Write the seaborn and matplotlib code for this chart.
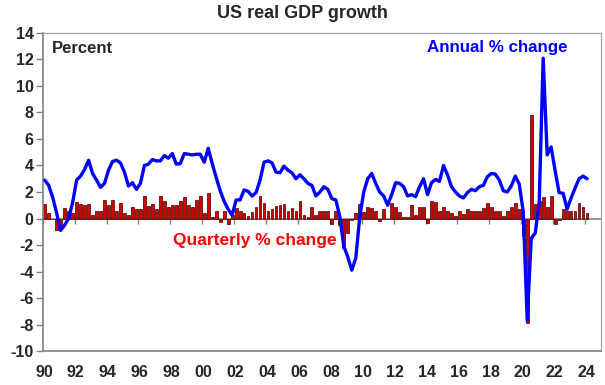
import numpy as np
import pandas as pd
import seaborn as sns
import matplotlib.pyplot as plt

sns.set_style("white")
plt.rcParams['font.family'] = ['Liberation Sans', 'DejaVu Sans']
plt.rcParams['axes.unicode_minus'] = False

# quarterly % change, 1990Q1 - 2024Q1
quarterly = [
    1.1, 0.4, 0.0, -0.9,      # 1990
    -0.6, 0.8, 0.55, 0.45,    # 1991
    1.25, 1.1, 1.0, 1.1,      # 1992
    0.25, 0.6, 0.55, 1.4,     # 1993
    1.0, 1.4, 0.6, 1.2,       # 1994
    0.4, 0.3, 0.9, 0.75,      # 1995
    0.75, 1.7, 0.95, 1.1,     # 1996
    0.7, 1.7, 1.3, 0.9,       # 1997
    1.0, 1.0, 1.3, 1.65,      # 1998
    1.0, 0.9, 1.4, 1.7,       # 1999
    0.4, 1.9, 0.1, 0.6,       # 2000
    -0.3, 0.6, -0.4, 0.3,     # 2001
    0.8, 0.6, 0.45, 0.2,      # 2002
    0.5, 0.9, 1.7, 1.2,       # 2003
    0.6, 0.75, 0.95, 1.05,    # 2004
    1.1, 0.55, 0.8, 0.6,      # 2005
    1.35, 0.3, 0.1, 0.9,      # 2006
    0.3, 0.6, 0.6, 0.6,       # 2007
    -0.4, 0.6, -0.5, -2.2,    # 2008
    -1.1, -0.15, 0.4, 1.1,    # 2009
    0.5, 0.9, 0.8, 0.55,      # 2010
    -0.2, 0.7, 0.0, 1.15,     # 2011
    0.85, 0.5, 0.1, 0.1,      # 2012
    1.0, 0.3, 0.9, 0.9,       # 2013
    -0.35, 1.3, 1.25, 0.55,   # 2014
    0.9, 0.6, 0.4, 0.2,       # 2015
    0.6, 0.35, 0.7, 0.6,      # 2016
    0.55, 0.6, 0.8, 1.15,     # 2017
    0.85, 0.6, 0.6, 0.2,      # 2018
    0.55, 0.85, 1.2, 0.7,     # 2019
    -1.3, -7.9, 7.8, 1.1,     # 2020
    1.3, 1.6, 0.85, 1.7,      # 2021
    -0.45, -0.1, 0.7, 0.6,    # 2022
    0.6, 0.55, 1.2, 0.85,     # 2023
    0.4,                      # 2024
]

# annual % change (year on year), same quarters
annual = [
    2.9, 2.5, 1.6, 0.4,
    -0.9, -0.5, 0.0, 1.2,
    2.9, 3.2, 3.7, 4.4,
    3.4, 2.9, 2.35, 2.65,
    3.65, 4.3, 4.4, 4.2,
    3.5, 2.45, 2.7, 2.2,
    2.65, 4.0, 4.1, 4.45,
    4.35, 4.35, 4.75, 4.55,
    4.9, 4.1, 4.15, 4.9,
    4.85, 4.8, 4.85, 4.85,
    4.25, 5.3, 4.15, 3.1,
    2.1, 1.3, 0.7, 0.25,
    1.4, 1.4, 2.15, 2.05,
    1.7, 1.95, 2.9, 4.25,
    4.35, 4.2, 3.5, 3.45,
    3.95, 3.65, 3.45, 3.0,
    3.3, 3.0, 2.65, 2.5,
    1.7, 2.0, 2.4, 2.2,
    1.5, 1.4, 0.15, -2.1,
    -2.9, -3.9, -3.0, 0.1,
    2.0, 3.0, 3.4, 2.65,
    2.0, 1.7, 1.0, 1.8,
    2.7, 2.65, 2.4, 1.7,
    1.8, 1.65, 2.4, 3.0,
    1.8, 2.7, 2.95, 2.8,
    4.0, 3.3, 2.4, 2.0,
    1.7, 1.55, 1.95, 2.2,
    2.1, 2.4, 2.5, 3.15,
    3.4, 3.35, 2.9, 2.1,
    2.0, 2.45, 3.2, 2.6,
    0.5, -7.7, -1.5, -1.1,
    1.2, 12.1, 4.8, 5.4,
    3.6, 1.95, 1.9, 0.7,
    1.55, 2.3, 3.0, 3.2,
    3.0,
]

year_labels = ['90', '92', '94', '96', '98', '00', '02', '04', '06', '08',
               '10', '12', '14', '16', '18', '20', '22', '24']

df = pd.DataFrame({'q': np.arange(len(quarterly)),
                   'quarterly': quarterly,
                   'annual': annual})

fig = plt.figure(figsize=(6.05, 3.85), dpi=100)
ax = fig.add_axes([0.0706, 0.0883, 0.9228, 0.826])

sns.barplot(data=df, x='q', y='quarterly', native_scale=True, width=0.7,
            color='#d40000', saturation=1, edgecolor='#3a0000', linewidth=0.5,
            ax=ax, zorder=2)
sns.lineplot(data=df, x='q', y='annual', color='#0000ff', linewidth=2.4,
             ax=ax, zorder=3)

ax.set_xlim(-0.5, 139.5)
ax.set_ylim(-10, 14)
ax.set_yticks(range(-10, 15, 2))
ax.set_xticks(np.arange(len(year_labels)) * 8 - 0.2)
ax.set_xticklabels(year_labels)
ax.set_xlabel('')
ax.set_ylabel('')
ax.tick_params(axis='x', length=0, pad=10, labelsize=11.5)
ax.tick_params(axis='y', direction='out', length=5, width=1, color='#808080',
               pad=1.5, labelsize=11.5, left=True)
for lab in ax.get_xticklabels() + ax.get_yticklabels():
    lab.set_fontweight('bold')

for side in ['left', 'bottom']:
    ax.spines[side].set_color('#808080')
    ax.spines[side].set_linewidth(1.2)
for side in ['top', 'right']:
    ax.spines[side].set_visible(True)
    ax.spines[side].set_color('#a6a6a6')
    ax.spines[side].set_linewidth(0.9)

# zero line with year ticks
zero = ax.secondary_xaxis(10 / 24)
zero.set_xticks(np.arange(len(year_labels)) * 8 - 0.5)
zero.set_xticklabels([])
zero.tick_params(axis='x', direction='out', length=3.5, width=1, color='#808080')
zero.spines['bottom'].set_color('#808080')
zero.spines['bottom'].set_linewidth(1.2)
zero.spines['bottom'].set_zorder(1)

ax.text(0.017, 0.95, 'Percent', transform=ax.transAxes, fontsize=12,
        fontweight='bold', va='center', ha='left')
ax.text(0.814, 0.953, 'Annual % change', transform=ax.transAxes, fontsize=12.2,
        fontweight='bold', va='center', ha='center', color='#0000ff')
ax.text(0.38, 0.346, 'Quarterly % change', transform=ax.transAxes, fontsize=12.5,
        fontweight='bold', va='center', ha='center', color='#ff0000')
fig.text(0.5, 1 - 14 / 385, 'US real GDP growth', fontsize=13,
         fontweight='bold', va='center', ha='center')

fig.savefig('out.png', dpi=100)
